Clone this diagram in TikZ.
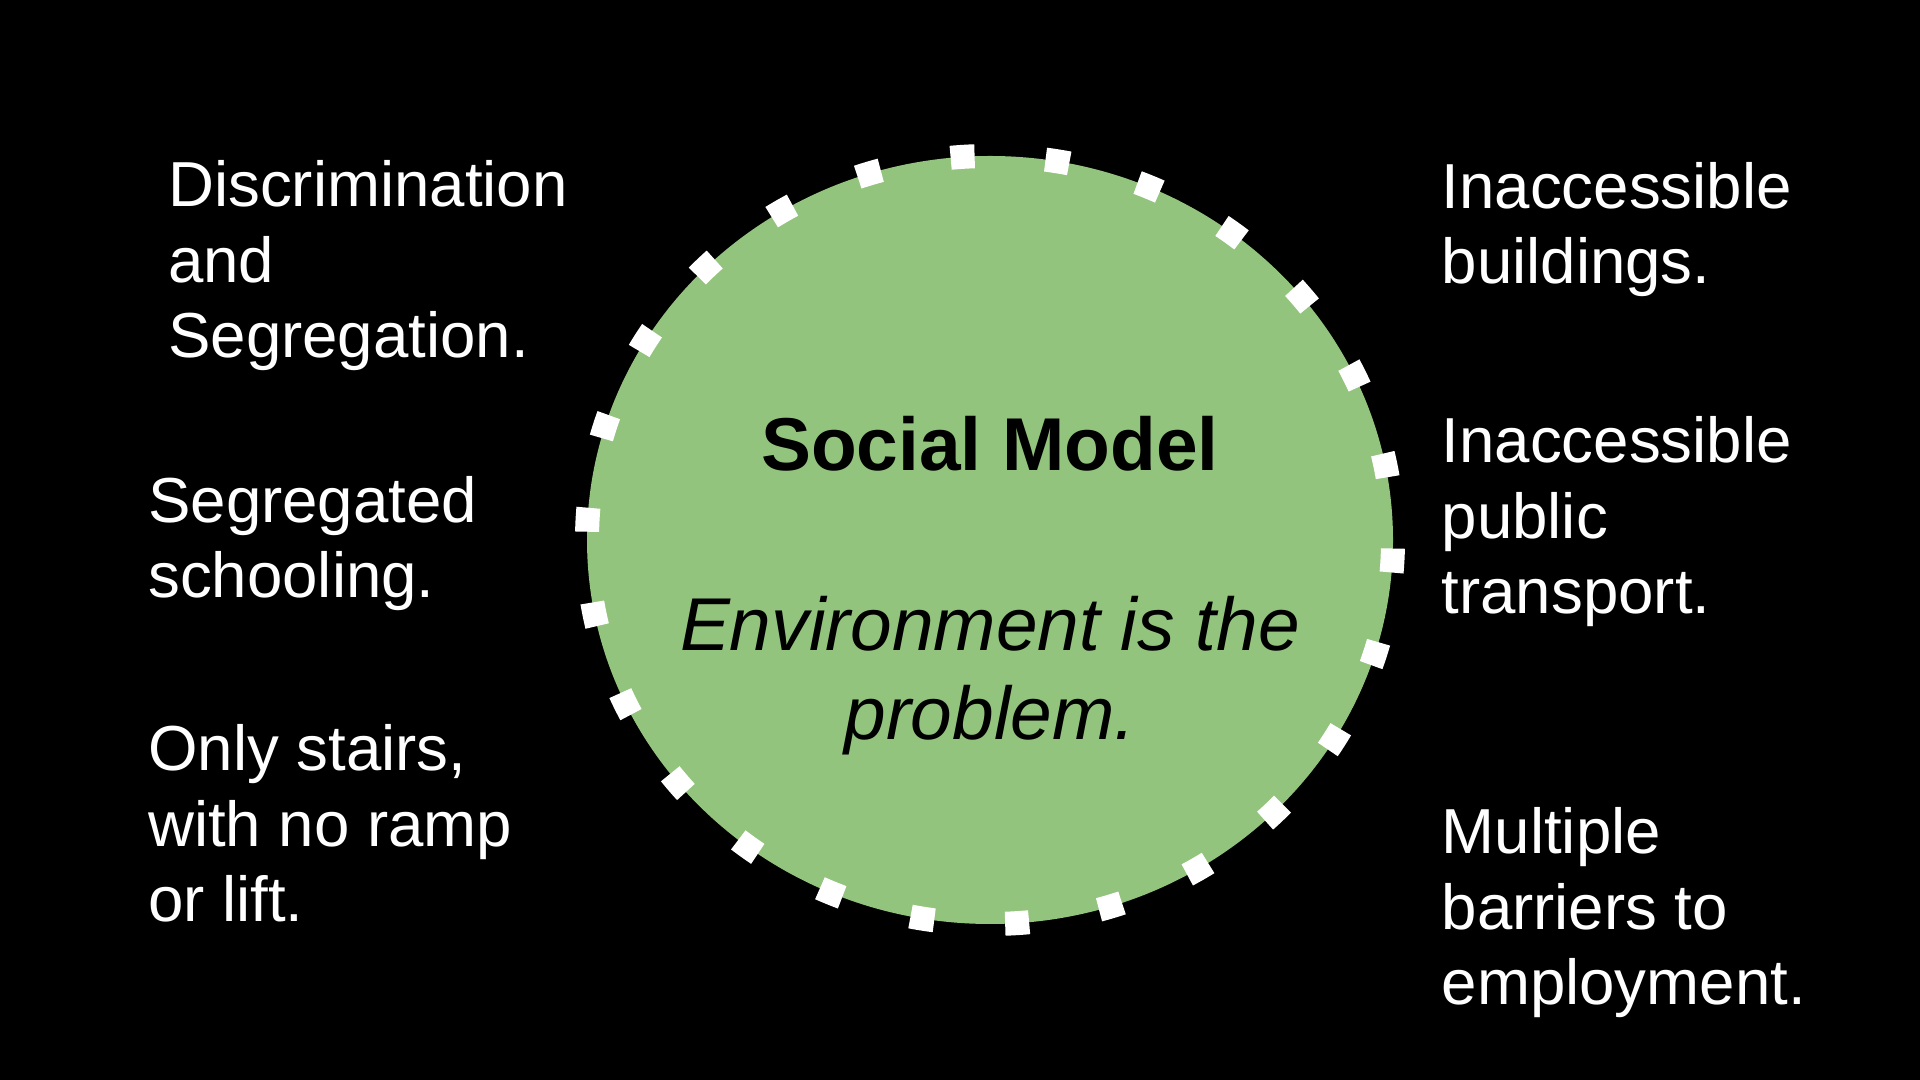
\documentclass[tikz,border=0pt]{standalone}
\usepackage{fontspec}
\setmainfont{Liberation Sans}
\usetikzlibrary{shapes.geometric}

\definecolor{modelgreen}{RGB}{147,196,125}

\begin{document}
\begin{tikzpicture}[x=1cm, y=1cm]
        \tikzset{
            sidetext/.style={text=white, inner sep=0pt, anchor=base west, align=left, font=\fontsize{18.1pt}{21.6pt}\selectfont},
            modelring/.style={ellipse, draw=white, fill=modelgreen, inner sep=0pt, line width=2.4mm, dash pattern=on 2.4mm off 7.11mm, dash phase=3.2mm},
            titletext/.style={inner sep=0pt, anchor=base, font=\fontsize{21.3pt}{25.6pt}\selectfont\bfseries},
            tagtext/.style={inner sep=0pt, anchor=base, align=center, font=\fontsize{21.3pt}{25.6pt}\selectfont\itshape}
        }

        % Background
        \fill[black] (0,0) rectangle (19.2,10.8);
        \useasboundingbox (0,0) rectangle (19.2,10.8);

        % Social Model circle (multi-line nodes sit on their last baseline)
        \node[modelring, minimum width=8.06cm, minimum height=7.68cm] (model) at (9.90,5.40) {};
        \node[titletext] (title) at ([yshift=6.9mm]model.center) {Social Model};
        \node[tagtext] (tagline) at ([yshift=-20mm]model.center) {Environment is the\\problem.};

        % Left barriers
        \node[sidetext] (discr) at (1.675,7.22) {Discrimination\\and\\Segregation.};
        \node[sidetext] (school) at (1.475,4.82) {Segregated\\schooling.};
        \node[sidetext] (stairs) at (1.475,1.58) {Only stairs,\\with no ramp\\or lift.};

        % Right barriers
        \node[sidetext] (build) at (14.41,7.96) {Inaccessible\\buildings.};
        \node[sidetext] (transp) at (14.41,4.66) {Inaccessible\\public\\transport.};
        \node[sidetext] (employ) at (14.41,0.75) {Multiple\\barriers to\\employment.};
    \end{tikzpicture}
\end{document}
